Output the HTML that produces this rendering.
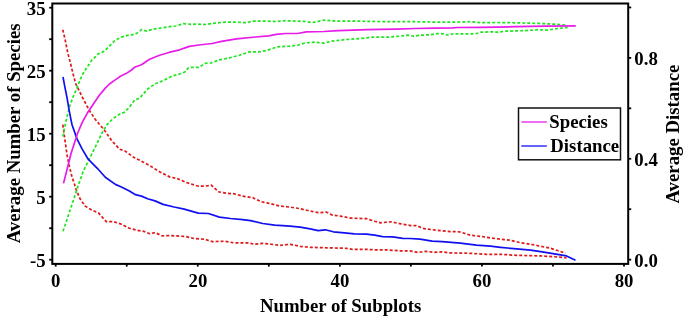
<!DOCTYPE html><html><head><meta charset="utf-8"><style>html,body{margin:0;padding:0;background:#fff;width:685px;height:318px;overflow:hidden}svg{display:block;will-change:transform}text{font-family:"Liberation Serif",serif;font-weight:bold;fill:#000}</style></head><body>
<svg width="685" height="318" viewBox="0 0 685 318">
<rect width="685" height="318" fill="#fff"/>
<polyline points="62.8,29.7 65.2,40.0 67.4,51.3 70.3,62.6 73.1,74.0 75.9,84.3 78.8,90.0 82.5,97.5 89.2,110.2 95.2,119.3 104.3,130.0 111.3,140.1 119.4,149.1 125.4,151.2 133.5,157.2 143.5,162.2 151.0,166.4 160.1,172.1 170.1,177.1 177.2,178.5 186.2,182.5 198.3,186.2 204.3,186.2 211.4,185.2 218.4,191.8 226.5,193.2 234.5,193.8 242.6,196.2 252.6,197.6 260.7,201.6 270.7,203.7 280.0,206.1 290.1,207.1 300.1,208.7 310.2,211.1 318.2,212.7 326.3,212.1 332.3,215.1 340.4,216.1 350.4,218.1 366.5,218.7 374.6,221.2 380.6,222.8 390.7,221.8 400.7,223.8 410.8,225.6 416.0,225.5 424.1,228.7 436.2,230.2 450.2,231.6 459.3,231.8 470.4,235.2 482.4,236.6 490.0,237.8 500.1,239.2 510.1,240.2 520.2,242.6 530.2,244.2 540.3,246.2 550.4,248.2 558.4,250.8 565.5,253.3" fill="none" stroke="#e01818" stroke-width="1.7" stroke-dasharray="3 2"/>
<polyline points="62.8,124.6 65.1,141.1 67.1,155.2 69.1,165.2 72.1,177.3 74.1,183.0 76.1,189.5 80.2,199.1 85.2,206.1 92.2,210.2 98.3,212.8 102.3,217.2 106.3,221.6 113.4,221.6 121.4,224.2 129.4,228.3 137.5,230.3 143.5,231.3 149.6,233.7 155.0,232.6 162.1,235.8 170.1,235.6 180.2,236.2 186.2,236.6 194.3,238.6 204.3,239.2 212.4,241.6 224.4,241.2 234.5,242.9 248.6,242.9 254.6,244.3 262.7,243.3 274.7,244.7 280.0,245.3 290.1,244.3 300.1,246.3 310.2,247.3 330.3,247.9 346.4,248.3 352.4,249.3 364.5,249.3 376.6,249.9 386.6,249.9 400.7,250.9 410.0,250.9 418.0,252.5 425.1,251.3 434.1,252.3 442.2,251.9 450.2,252.9 470.4,253.3 486.5,254.3 500.5,254.3 516.6,255.3 530.7,255.7 540.3,255.9 554.4,256.7 566.5,257.9" fill="none" stroke="#e01818" stroke-width="1.7" stroke-dasharray="3 2"/>
<polyline points="63.0,136.5 64.0,130.9 65.9,121.5 67.8,113.6 69.8,105.7 73.0,97.1 76.1,90.0 78.5,84.0 80.6,78.7 83.2,73.3 86.3,68.5 89.2,64.3 92.0,59.8 95.2,57.2 97.6,54.2 102.3,52.2 105.3,50.2 108.9,46.6 110.3,45.2 115.4,40.1 121.4,37.1 128.4,35.1 134.5,34.5 138.5,32.1 141.5,29.7 146.5,31.1 153.6,29.1 161.6,28.0 169.7,26.6 175.7,26.0 183.8,23.6 192.0,24.4 195.1,24.1 205.1,24.5 215.2,23.1 225.2,22.1 235.3,22.1 245.4,22.7 253.4,21.1 265.5,21.1 275.5,21.5 285.6,20.7 295.7,21.1 305.7,21.5 311.8,22.5 315.0,22.1 324.1,20.1 335.1,21.1 355.2,21.1 375.4,21.5 395.5,21.7 415.6,21.7 435.7,22.1 445.0,22.1 457.1,22.1 469.1,21.7 481.2,22.7 495.3,22.5 511.4,22.7 525.5,23.1 541.6,23.5 553.7,24.1 566.5,25.1" fill="none" stroke="#1ee61e" stroke-width="1.7" stroke-dasharray="3 2"/>
<polyline points="63.0,231.3 69.1,213.2 75.1,195.1 79.1,183.0 83.2,171.3 89.2,159.2 96.2,145.1 102.8,131.5 107.3,124.3 113.4,118.3 119.4,114.3 124.4,112.3 129.4,107.2 134.5,100.2 139.5,98.2 147.6,89.1 154.6,84.1 163.7,80.4 171.7,76.3 181.8,73.3 186.0,71.4 187.8,68.3 191.0,67.3 199.1,67.3 205.1,63.3 211.2,62.9 219.2,59.9 229.3,57.9 239.3,55.3 249.4,51.9 259.4,51.9 267.5,50.2 277.6,46.8 289.6,46.2 297.7,45.2 305.7,42.8 315.0,42.2 324.1,43.2 331.1,41.2 345.2,39.6 359.3,38.6 373.3,37.2 387.4,37.2 399.5,36.2 407.6,35.2 413.6,36.2 419.6,35.2 429.7,34.8 437.7,33.6 443.8,33.8 447.8,35.2 453.0,33.8 475.2,33.8 481.2,32.2 491.3,31.8 497.3,32.2 505.4,31.2 525.5,30.6 537.6,29.7 547.6,30.2 557.7,28.5 567.7,27.5" fill="none" stroke="#1ee61e" stroke-width="1.7" stroke-dasharray="3 2"/>
<polyline points="63.0,77.0 65.1,88.1 67.1,98.2 69.1,110.2 71.1,120.3 72.1,125.0 77.1,139.1 82.2,149.1 88.2,159.2 97.3,168.3 105.3,177.3 115.4,184.4 121.4,187.0 129.4,191.0 135.5,194.7 141.5,196.1 147.6,198.7 155.0,200.9 163.1,204.4 174.1,207.0 184.2,209.1 198.3,213.1 208.4,213.5 219.4,217.1 230.5,218.5 242.6,219.7 250.6,220.7 262.7,223.5 274.7,225.2 290.1,226.2 300.1,227.2 310.2,228.8 318.2,230.6 325.3,229.8 333.3,231.8 344.4,232.8 354.4,233.8 366.5,234.2 374.6,235.2 382.6,236.6 392.7,236.9 402.7,238.3 410.0,238.5 420.1,239.2 432.1,241.2 442.2,241.6 460.3,243.2 476.4,245.2 490.5,246.2 500.5,247.3 516.6,248.9 530.5,250.2 542.3,251.9 554.4,253.9 566.5,255.9 575.5,260.3" fill="none" stroke="#1010f0" stroke-width="1.7" stroke-linejoin="round"/>
<polyline points="63.5,183.4 67.1,169.3 71.1,153.2 76.1,138.1 77.1,134.5 82.2,122.3 87.2,113.3 93.2,104.2 99.3,95.2 105.3,88.1 109.5,84.0 113.4,81.1 117.4,78.4 120.4,76.3 126.0,73.6 131.5,70.0 134.5,67.3 141.5,64.7 149.6,59.2 159.6,55.2 169.7,52.2 179.7,49.8 185.0,47.9 189.4,46.4 198.9,45.0 212.1,43.5 221.5,41.3 236.6,38.9 255.5,37.0 268.7,35.9 276.2,34.3 285.6,33.5 297.7,33.5 306.3,31.9 323.8,31.5 338.4,30.7 353.0,30.1 367.6,29.7 380.0,29.4 395.5,29.1 415.6,28.5 435.7,28.1 453.0,27.8 457.0,27.5 481.2,27.3 515.4,26.7 545.6,26.1 575.8,25.9" fill="none" stroke="#e81ce8" stroke-width="1.7" stroke-linejoin="round"/>
<g stroke="#000" stroke-width="2.0" fill="none">
<rect x="52.3" y="3.5" width="575.90" height="260.40"/>
<line x1="49.2" y1="259.70" x2="52.3" y2="259.70" stroke-width="1.8"/>
<line x1="49.2" y1="228.20" x2="52.3" y2="228.20" stroke-width="1.8"/>
<line x1="49.2" y1="196.70" x2="52.3" y2="196.70" stroke-width="1.8"/>
<line x1="49.2" y1="165.20" x2="52.3" y2="165.20" stroke-width="1.8"/>
<line x1="49.2" y1="133.70" x2="52.3" y2="133.70" stroke-width="1.8"/>
<line x1="49.2" y1="102.20" x2="52.3" y2="102.20" stroke-width="1.8"/>
<line x1="49.2" y1="70.70" x2="52.3" y2="70.70" stroke-width="1.8"/>
<line x1="49.2" y1="39.20" x2="52.3" y2="39.20" stroke-width="1.8"/>
<line x1="49.2" y1="7.70" x2="52.3" y2="7.70" stroke-width="1.8"/>
<line x1="55.70" y1="263.9" x2="55.70" y2="266.6" stroke-width="1.8"/>
<line x1="126.74" y1="263.9" x2="126.74" y2="266.6" stroke-width="1.8"/>
<line x1="197.78" y1="263.9" x2="197.78" y2="266.6" stroke-width="1.8"/>
<line x1="268.82" y1="263.9" x2="268.82" y2="266.6" stroke-width="1.8"/>
<line x1="339.86" y1="263.9" x2="339.86" y2="266.6" stroke-width="1.8"/>
<line x1="410.90" y1="263.9" x2="410.90" y2="266.6" stroke-width="1.8"/>
<line x1="481.94" y1="263.9" x2="481.94" y2="266.6" stroke-width="1.8"/>
<line x1="552.98" y1="263.9" x2="552.98" y2="266.6" stroke-width="1.8"/>
<line x1="624.02" y1="263.9" x2="624.02" y2="266.6" stroke-width="1.8"/>
<line x1="628.2" y1="259.65" x2="631.2" y2="259.65" stroke-width="1.8"/>
<line x1="628.2" y1="209.21" x2="631.2" y2="209.21" stroke-width="1.8"/>
<line x1="628.2" y1="158.77" x2="631.2" y2="158.77" stroke-width="1.8"/>
<line x1="628.2" y1="108.33" x2="631.2" y2="108.33" stroke-width="1.8"/>
<line x1="628.2" y1="57.89" x2="631.2" y2="57.89" stroke-width="1.8"/>
<line x1="628.2" y1="7.45" x2="631.2" y2="7.45" stroke-width="1.8"/>
</g>
<text x="45.6" y="14.5" font-size="18.8" text-anchor="end">35</text>
<text x="45.6" y="77.5" font-size="18.8" text-anchor="end">25</text>
<text x="45.6" y="140.5" font-size="18.8" text-anchor="end">15</text>
<text x="45.6" y="203.5" font-size="18.8" text-anchor="end">5</text>
<text x="45.6" y="266.5" font-size="18.8" text-anchor="end">-5</text>
<text x="55.8" y="287.1" font-size="18.8" text-anchor="middle">0</text>
<text x="197.9" y="287.1" font-size="18.8" text-anchor="middle">20</text>
<text x="340.0" y="287.1" font-size="18.8" text-anchor="middle">40</text>
<text x="482.0" y="287.1" font-size="18.8" text-anchor="middle">60</text>
<text x="624.1" y="287.1" font-size="18.8" text-anchor="middle">80</text>
<text x="634.3" y="267.1" font-size="18.8">0.0</text>
<text x="634.3" y="166.3" font-size="18.8">0.4</text>
<text x="634.3" y="65.4" font-size="18.8">0.8</text>
<text x="340.6" y="311.6" font-size="18.8" text-anchor="middle">Number of Subplots</text>
<text transform="translate(19.9,133.4) rotate(-90)" x="0" y="0" font-size="18.8" text-anchor="middle">Average Number of Species</text>
<text transform="translate(678.6,134.1) rotate(-90)" x="0" y="0" font-size="18.8" text-anchor="middle">Average Distance</text>
<rect x="518.5" y="108" width="102" height="51.8" fill="#fff" stroke="#111" stroke-width="1.5"/>
<line x1="521.3" y1="122" x2="546.8" y2="122" stroke="#e81ce8" stroke-width="1.3"/>
<line x1="521.3" y1="146" x2="546.8" y2="146" stroke="#1010f0" stroke-width="1.3"/>
<text x="549.3" y="128.3" font-size="18.8">Species</text>
<text x="550.3" y="151.9" font-size="18.8">Distance</text>
</svg></body></html>
